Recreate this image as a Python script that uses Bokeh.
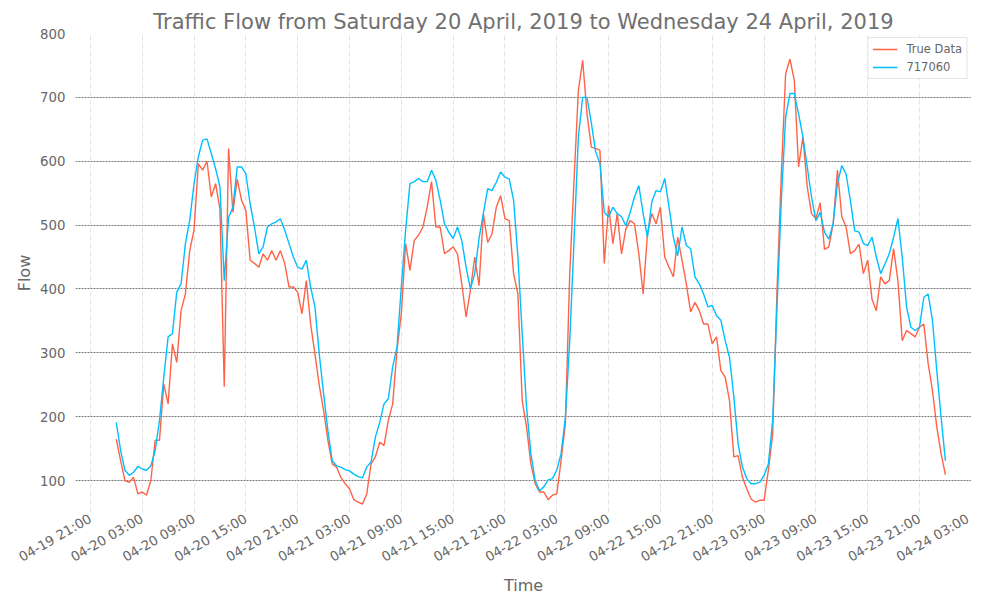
import math
import pandas as pd
from bokeh.plotting import figure
from bokeh.models import (Range1d, FixedTicker, DatetimeTickFormatter, Legend,
                          LegendItem, ColumnDataSource)
from bokeh.embed import file_html
from bokeh.resources import INLINE

# ---- data (30-minute samples starting 2019-04-20 00:00) ----
START = "2019-04-20 00:00"
STEP = "30min"

true_data = [
    165, 131, 100, 97, 105, 79, 82, 77, 100, 163,
    163, 251, 220, 314, 285, 366, 392, 460, 492, 596,
    586, 600, 544, 565, 525, 247, 620, 520, 572, 539,
    523, 445, 440, 434, 455, 445, 460, 445, 460, 440,
    403, 403, 395, 361, 413, 345, 298, 249, 210, 163,
    126, 121, 105, 95, 87, 70, 66, 63, 79, 126,
    137, 160, 155, 194, 220, 304, 361, 471, 429, 476,
    484, 497, 528, 568, 497, 497, 455, 460, 466, 455,
    408, 356, 398, 450, 405, 518, 473, 486, 528, 546,
    510, 507, 424, 392, 225, 184, 126, 95, 82, 82,
    70, 77, 79, 131, 189, 424, 570, 711, 758, 674,
    622, 620, 617, 440, 530, 471, 518, 455, 494, 507,
    502, 455, 392, 486, 518, 502, 528, 450, 434, 419,
    481, 445, 408, 364, 379, 366, 345, 345, 314, 325,
    272, 262, 225, 137, 139, 105, 87, 71, 66, 69,
    69, 116, 173, 398, 580, 737, 760, 727, 591, 638,
    560, 518, 510, 535, 462, 466, 502, 586, 513, 497,
    455, 460, 470, 424, 445, 384, 366, 419, 408, 413,
    463, 413, 319, 335, 330, 325, 340, 345, 283, 241,
    184, 142, 109,
]

pred_717060 = [
    191, 147, 116, 108, 113, 122, 118, 116, 123, 147,
    194, 262, 325, 330, 395, 408, 471, 507, 565, 607,
    633, 635, 612, 588, 560, 413, 512, 528, 591, 591,
    580, 533, 497, 455, 466, 497, 502, 505, 510, 492,
    471, 450, 434, 431, 445, 403, 372, 298, 236, 178,
    131, 123, 121, 117, 115, 110, 106, 104, 121, 129,
    168, 191, 220, 228, 278, 309, 403, 492, 565, 568,
    573, 568, 568, 586, 570, 539, 502, 489, 479, 497,
    476, 434, 400, 424, 479, 518, 557, 554, 567, 583,
    575, 572, 539, 450, 330, 215, 142, 100, 84, 90,
    101, 103, 116, 142, 199, 319, 476, 638, 700, 700,
    660, 615, 596, 520, 513, 528, 518, 513, 499, 520,
    544, 562, 518, 481, 536, 554, 552, 573, 528, 481,
    452, 497, 468, 463, 419, 408, 392, 372, 374, 358,
    351, 319, 293, 231, 157, 121, 103, 95, 95, 97,
    108, 126, 194, 372, 539, 669, 706, 706, 674, 638,
    591, 544, 507, 520, 489, 478, 502, 565, 593, 580,
    538, 491, 489, 471, 468, 481, 450, 424, 439, 455,
    481, 510, 450, 372, 340, 335, 340, 387, 392, 351,
    272, 199, 131,
]

series_names = ["True Data", "717060"]
y_ticks = [100, 200, 300, 400, 500, 600, 700, 800]
x_tick_first = "2019-04-19 21:00"
x_tick_last = "2019-04-24 03:00"
x_tick_step = "6h"
title_text = "Traffic Flow from Saturday 20 April, 2019 to Wednesday 24 April, 2019"

# ---- build ----
times = pd.date_range(START, periods=len(true_data), freq=STEP)
src = ColumnDataSource(dict(t=times, true=true_data, pred=pred_717060))

EPOCH = pd.Timestamp("1970-01-01")
def to_ms(ts):
    return (pd.Timestamp(ts) - EPOCH) / pd.Timedelta(milliseconds=1)

x_start = to_ms(times[0] - pd.Timedelta(hours=4.724))
x_end = to_ms(times[0] + pd.Timedelta(hours=99.02))

FONT = "DejaVu Sans"
GREY = "#666666"

p = figure(width=971, height=600, x_axis_type="datetime",
           output_backend="svg", toolbar_location=None,
           x_range=Range1d(x_start, x_end), y_range=Range1d(49.9, 800),
           min_border_left=75, min_border_right=0, min_border_top=33,
           min_border_bottom=88)
p.outline_line_color = None
p.background_fill_color = "white"
p.border_fill_color = "white"

p.title.text = title_text
p.title.align = "center"
p.title.text_font = FONT
p.title.text_font_size = "21px"
p.title.text_font_style = "normal"
p.title.text_color = "#707070"
p.title.standoff = 0
p.title.offset = 10

xt = FixedTicker(ticks=[to_ms(t) for t in pd.date_range(x_tick_first, x_tick_last, freq=x_tick_step)])
yt = FixedTicker(ticks=y_ticks)
p.xaxis.ticker = xt
p.xgrid.ticker = xt
p.yaxis.ticker = yt
p.ygrid.ticker = yt

fmt = "%m-%d %H:%M"
p.xaxis.formatter = DatetimeTickFormatter(
    microseconds=fmt, milliseconds=fmt, seconds=fmt, minsec=fmt, minutes=fmt,
    hourmin=fmt, hours=fmt, days=fmt, months=fmt, years=fmt)
p.xaxis.major_label_orientation = math.pi / 6

for ax in (p.xaxis, p.yaxis):
    ax.axis_line_color = None
    ax.major_tick_line_color = None
    ax.minor_tick_line_color = None
    ax.major_tick_out = 0
    ax.major_tick_in = 0
    ax.minor_tick_out = 0
    ax.minor_tick_in = 0
    ax.major_label_text_font = FONT
    ax.major_label_text_font_size = "13.3px"
    ax.major_label_text_color = GREY
    ax.axis_label_text_font = FONT
    ax.axis_label_text_font_size = "16px"
    ax.axis_label_text_font_style = "normal"
    ax.axis_label_text_color = GREY

p.xaxis.axis_label = "Time"
p.yaxis.axis_label = "Flow"
p.xaxis.major_label_standoff = 5
p.xaxis.axis_label_standoff = 2
p.yaxis.major_label_standoff = 10
p.yaxis.axis_label_standoff = 3

p.ygrid.grid_line_color = "#555555"
p.ygrid.grid_line_dash = "2 1"
p.ygrid.grid_line_width = 0.8
p.xgrid.grid_line_color = "#e2e2e2"
p.xgrid.grid_line_dash = "5 3"
p.xgrid.grid_line_width = 1

r1 = p.line("t", "true", source=src, line_color="#FF6347", line_width=1.4)
r2 = p.line("t", "pred", source=src, line_color="#00BFFF", line_width=1.4)

legend = Legend(items=[LegendItem(label=series_names[0], renderers=[r1]),
                       LegendItem(label=series_names[1], renderers=[r2])],
                location="top_right")
legend.label_text_font = FONT
legend.label_text_font_size = "11.5px"
legend.label_text_color = GREY
legend.glyph_width = 25
legend.glyph_height = 12
legend.label_height = 12
legend.label_standoff = 9
legend.spacing = 4
legend.padding = 4
legend.margin = 4
legend.border_line_color = "#cccccc"
legend.border_line_width = 1
legend.background_fill_alpha = 0.85
p.add_layout(legend)

open("out.html", "w").write(file_html(p, INLINE))
